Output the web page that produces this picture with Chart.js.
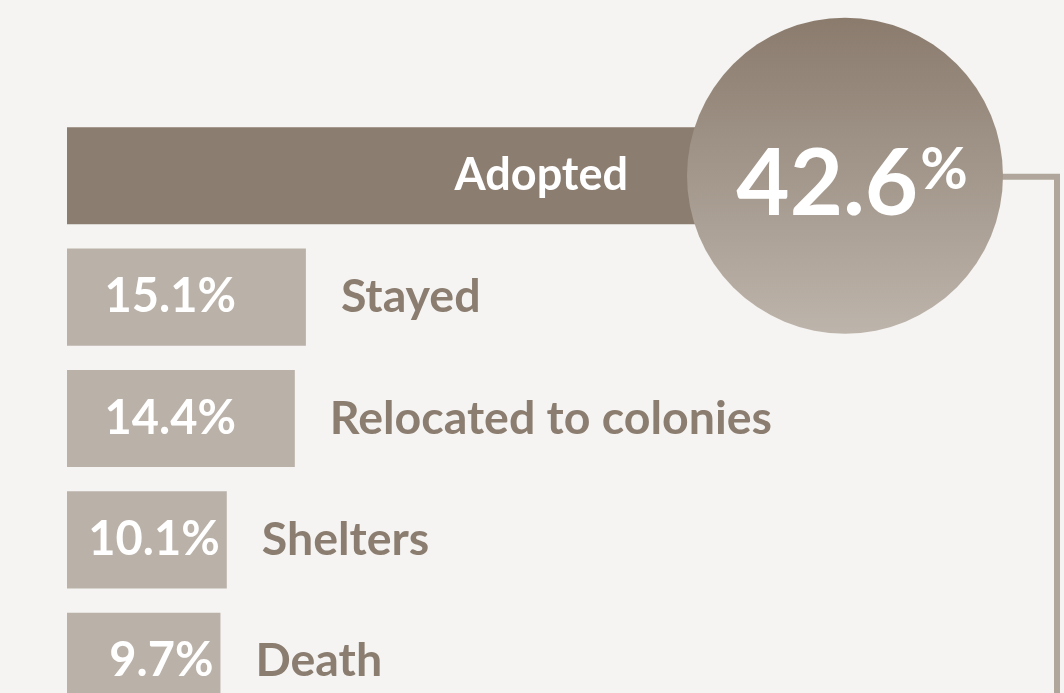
<!DOCTYPE html>
<html>
<head>
<meta charset="utf-8">
<script src="https://cdn.jsdelivr.net/npm/chart.js@4"></script>
<style>
  html, body { margin: 0; padding: 0; background: #f5f4f2; overflow: hidden; }
  #wrap { width: 1064px; height: 693px; overflow: hidden; }
</style>
</head>
<body>
<div id="wrap"><canvas id="grafico" width="1064" height="760"></canvas></div>
<script>
const categorias = ['Adopted', 'Stayed', 'Relocated to colonies', 'Shelters', 'Death'];
const valores = [42.6, 15.1, 14.4, 10.1, 9.7];
const coloresBarra = ['#8b7d70', '#bab1a8', '#bab1a8', '#bab1a8', '#bab1a8'];

const fuente = 'Lato, "Open Sans", sans-serif';
const colorTexto = '#8b7d70';

// etiquetas, circulo y linea de conexion
const pluginEtiquetas = {
  id: 'etiquetas',
  afterDatasetsDraw(chart) {
    const ctx = chart.ctx;
    const area = chart.chartArea;
    const barras = chart.getDatasetMeta(0).data;

    ctx.save();
    // barras pequeñas: valor dentro, categoria fuera
    for (let i = 1; i < barras.length; i++) {
      const b = barras[i];
      ctx.textBaseline = 'middle';
      ctx.font = 'bold 47px ' + fuente;
      ctx.fillStyle = '#ffffff';
      ctx.textAlign = 'right';
      ctx.fillText(valores[i].toFixed(1) + '%', Math.min(b.x - 7, area.left + 169), b.y);
      ctx.font = 'bold 46.5px ' + fuente;
      ctx.fillStyle = colorTexto;
      ctx.textAlign = 'left';
      ctx.fillText(categorias[i], b.x + 35, b.y);
    }

    // circulo del valor principal
    const top = barras[0];
    const cx = area.left + 778;
    const cy = top.y;
    const r = 158;

    ctx.strokeStyle = '#b0a69c';
    ctx.lineWidth = 6;
    ctx.beginPath();
    ctx.moveTo(cx + r - 4, cy + 1);
    ctx.lineTo(1057, cy + 1);
    ctx.lineTo(1057, chart.height);
    ctx.stroke();

    const grad = ctx.createLinearGradient(0, cy - r, 0, cy + r);
    grad.addColorStop(0, '#8a7b6d');
    grad.addColorStop(1, '#bdb4ab');
    ctx.fillStyle = grad;
    ctx.beginPath();
    ctx.arc(cx, cy, r, 0, Math.PI * 2);
    ctx.fill();

    ctx.fillStyle = '#ffffff';
    ctx.textBaseline = 'middle';
    ctx.textAlign = 'right';
    ctx.font = 'bold 45px ' + fuente;
    ctx.fillText(categorias[0], cx - 217, cy);

    const numero = valores[0].toFixed(1);
    ctx.font = 'bold 92px ' + fuente;
    const w1 = ctx.measureText(numero).width;
    ctx.font = 'bold 58px ' + fuente;
    const w2 = ctx.measureText('%').width;
    const x0 = cx + 6 - (w1 + w2) / 2;
    ctx.textAlign = 'left';
    ctx.textBaseline = 'alphabetic';
    ctx.font = 'bold 92px ' + fuente;
    ctx.fillText(numero, x0, cy + 39);
    ctx.font = 'bold 58px ' + fuente;
    ctx.fillText('%', x0 + w1 + 2, cy + 13);
    ctx.restore();
  }
};

const ctxGrafico = document.getElementById('grafico').getContext('2d');
const grafico = new Chart(ctxGrafico, {
  type: 'bar',
  data: {
    labels: categorias,
    datasets: [{
      data: valores,
      backgroundColor: coloresBarra,
      borderWidth: 0,
      barPercentage: 0.8,
      categoryPercentage: 1
    }]
  },
  options: {
    indexAxis: 'y',
    responsive: false,
    animation: false,
    layout: { padding: { left: 67, right: 206, top: 115, bottom: 38 } },
    plugins: {
      legend: { display: false },
      tooltip: { enabled: false }
    },
    scales: {
      x: { display: false, min: 0, max: 50 },
      y: { display: false }
    }
  },
  plugins: [pluginEtiquetas]
});
</script>
</body>
</html>
